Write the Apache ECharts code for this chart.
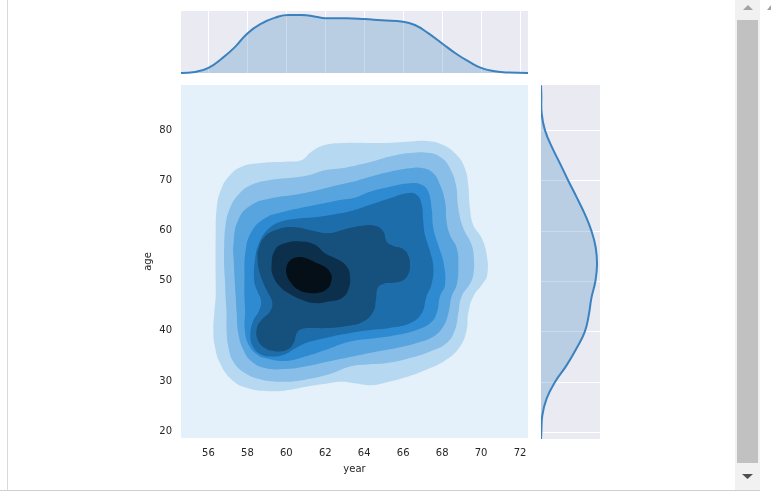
<!DOCTYPE html>
<html><head><meta charset="utf-8">
<script src="https://cdn.jsdelivr.net/npm/echarts@6/dist/echarts.min.js"></script>
<style>html,body{margin:0;padding:0;background:#fff;}#c{width:771px;height:493px;}</style>
</head><body><div id="c"></div>
<script>
// ---- axes ----
const xTicks = [56, 58, 60, 62, 64, 66, 68, 70, 72];
const yTicks = [20, 30, 40, 50, 60, 70, 80];
const yearRange = [54.59, 72.41];
const ageRange = [18.68, 88.95];

// ---- contour fill colours (background level first) ----
const levelColors = ['#e5f1fa', '#b6d9f1', '#88bee7', '#57a4de', '#2e8bd1', '#1d6dab', '#16507c', '#0c2f4b', '#050f18'];

// ---- contour levels, vertices as [year, age] ----
const level1 = [[56.37,50.2],[56.37,59.1],[56.42,64.4],[56.62,67.9],[57.05,70.8],[57.7,72.7],[58.73,73.4],[60.1,73.7],[60.79,74.0],[61.3,75.7],[61.98,77.0],[63.0,77.4],[64.98,77.4],[66.35,77.7],[67.21,77.8],[68.06,77.0],[68.75,75.0],[69.17,72.4],[69.34,69.1],[69.43,64.4],[69.6,61.1],[70.03,58.5],[70.29,55.1],[70.32,51.2],[70.1,49.5],[69.6,46.85],[69.34,43.5],[69.26,40.2],[68.92,36.9],[68.23,34.3],[67.21,32.3],[66.0,30.6],[64.98,29.6],[64.3,29.2],[63.5,29.6],[62.8,29.9],[62.0,29.5],[61.0,28.9],[60.2,28.3],[59.3,28.0],[58.04,28.6],[57.19,30.3],[56.59,33.6],[56.33,36.9],[56.25,40.2],[56.3,43.5],[56.37,46.85]];
const level2 = [[56.85,50.0],[56.81,52.5],[56.81,57.1],[56.88,61.1],[57.1,64.4],[57.53,67.1],[58.22,69.1],[59.25,70.1],[60.27,70.5],[61.13,71.0],[61.98,72.0],[62.84,72.4],[63.52,72.9],[64.13,73.4],[65.32,74.7],[66.35,75.4],[67.38,75.4],[67.98,74.4],[68.4,72.4],[68.71,69.1],[68.83,64.4],[69.09,60.45],[69.52,57.1],[69.64,53.8],[69.6,51.2],[69.45,49.5],[69.0,46.85],[68.83,43.5],[68.66,40.2],[68.23,37.6],[67.38,35.9],[66.35,34.6],[65.15,33.6],[64.13,33.3],[63.27,32.9],[62.15,31.3],[60.96,30.3],[59.93,29.9],[58.73,30.3],[57.87,31.6],[57.27,33.9],[57.02,36.9],[56.93,40.2],[56.93,43.5],[56.88,46.85]];
const level3 = [[57.35,50.0],[57.3,54.0],[57.28,57.1],[57.53,62.1],[58.22,65.1],[59.24,66.4],[60.44,67.1],[61.47,67.9],[62.5,68.9],[63.52,69.8],[64.3,70.7],[65.32,71.7],[66.35,72.4],[67.03,72.4],[67.55,71.4],[67.89,69.1],[68.15,65.75],[68.23,61.8],[68.4,59.1],[68.75,56.5],[68.83,52.5],[68.75,49.2],[68.49,46.9],[68.32,43.5],[68.06,40.9],[67.55,38.9],[66.69,37.6],[65.66,36.6],[64.64,35.9],[63.52,35.0],[62.15,33.9],[60.96,32.9],[59.93,32.4],[58.9,32.6],[58.22,33.9],[57.79,36.25],[57.53,39.56],[57.45,43.54],[57.4,46.86]];
const level4 = [[57.85,50.0],[57.9,55.8],[58.22,59.8],[58.9,62.4],[59.76,63.6],[60.79,64.5],[61.81,65.3],[62.84,66.1],[63.52,66.5],[64.3,67.7],[65.32,68.7],[66.35,69.4],[66.95,69.1],[67.29,67.7],[67.46,64.4],[67.55,60.4],[67.8,57.1],[68.06,53.8],[68.15,49.2],[67.89,46.9],[67.72,43.5],[67.38,41.5],[66.69,40.2],[65.66,39.2],[64.64,38.6],[63.27,37.9],[62.0,36.2],[60.96,34.9],[59.93,34.0],[58.9,34.6],[58.5,35.3],[58.1,37.0],[57.87,40.0],[57.88,44.0],[57.85,47.0]];
const level5 = [[58.35,50.0],[58.4,54.5],[58.6,57.5],[59.0,60.0],[59.6,61.6],[60.44,62.3],[61.47,62.6],[62.5,63.2],[63.27,63.8],[64.3,65.1],[65.32,66.4],[66.18,67.4],[66.69,67.1],[66.95,65.1],[67.03,61.8],[67.12,59.1],[67.38,55.8],[67.55,52.5],[67.45,49.2],[67.2,46.9],[66.95,43.5],[66.35,41.5],[65.32,40.6],[64.3,40.2],[63.27,39.6],[62.0,38.6],[61.0,37.6],[60.4,36.4],[59.9,35.3],[59.3,34.9],[58.7,35.3],[58.3,36.8],[58.15,39.0],[58.3,42.0],[58.6,44.0],[58.7,46.0],[58.5,48.0]];
const level6 = [[58.56,56.14],[58.9,58.79],[59.59,60.24],[60.44,60.64],[61.3,59.98],[62.16,59.45],[63.01,60.24],[63.87,60.91],[64.55,60.91],[64.98,59.78],[65.15,57.8],[65.5,56.9],[65.95,56.4],[66.25,55.1],[66.35,53.0],[66.25,51.2],[65.95,50.0],[65.5,49.6],[65.0,49.4],[64.7,48.6],[64.6,46.2],[64.47,43.87],[63.95,41.88],[63.18,41.02],[62.16,40.56],[61.3,40.56],[60.79,40.36],[60.53,39.56],[60.41,37.91],[60.1,36.38],[59.5,35.92],[58.9,36.58],[58.53,38.24],[58.49,40.56],[58.73,42.21],[59.16,43.87],[59.28,45.53],[59.07,47.52],[58.82,49.51],[58.59,52.16],[58.53,54.15]];
const level7 = [[59.24,52.82],[59.42,56.14],[59.93,57.46],[60.79,57.79],[61.47,57.13],[61.98,55.47],[62.67,54.15],[63.1,52.82],[63.27,50.83],[63.18,48.18],[62.84,46.52],[62.16,45.86],[61.47,45.53],[60.79,46.19],[60.1,47.52],[59.67,48.84],[59.33,50.83]];
const level8 = [[60.0,52.6],[60.17,53.9],[60.5,54.6],[60.96,54.5],[61.5,53.6],[62.02,52.6],[62.3,51.2],[62.3,49.8],[62.1,48.4],[61.64,47.6],[61.1,47.6],[60.58,48.3],[60.2,49.8],[60.02,51.2]];
const levels = [level1, level2, level3, level4, level5, level6, level7, level8];

// ---- marginal densities ----
const yearGrid = [54.59,55.32,56.0,56.69,57.37,58.0,58.74,59.43,60.1,60.8,61.5,62.0,63.1,64.0,64.9,66.0,66.6,67.3,68.0,68.7,69.4,70.0,70.7,71.4,72.41];
const yearDensity = [0,0.0015,0.0074,0.0212,0.0382,0.0579,0.0726,0.0809,0.0848,0.0848,0.0823,0.0800,0.0800,0.0789,0.0770,0.0750,0.0701,0.0579,0.0432,0.0285,0.0162,0.0074,0.0025,0.0006,0];
const ageGrid = [88.9,87,83.3,80,76.7,73.4,70,66.7,63.3,60,56.7,53.3,50,46.7,43.3,40,36.7,33.3,30,26.7,23.4,20,18.7];
const ageDensity = [0,0.0002,0.0004,0.0024,0.0065,0.0115,0.0165,0.0216,0.0266,0.0306,0.0332,0.0340,0.0330,0.0306,0.0290,0.0266,0.0216,0.0155,0.0085,0.0034,0.0008,0.0002,0];

const lineColor = '#3a82bf';
const fillColor = 'rgba(58,130,191,0.28)';
const font = 'DejaVu Sans';
const textColor = '#262626';

const chart = echarts.init(document.getElementById('c'), null, {renderer: 'canvas'});
chart.setOption({
  animation: false,
  backgroundColor: '#ffffff',
  grid: [
    {left: 181, top: 85, width: 347, height: 353, show: true, backgroundColor: levelColors[0], borderWidth: 0, outerBoundsMode: 'none'},
    {left: 181, top: 11, width: 347, height: 62, show: true, backgroundColor: '#eaeaf2', borderWidth: 0, outerBoundsMode: 'none'},
    {left: 541, top: 85, width: 59, height: 354, show: true, backgroundColor: '#eaeaf2', borderWidth: 0, outerBoundsMode: 'none'}
  ],
  xAxis: [
    {gridIndex: 0, type: 'value', min: yearRange[0], max: yearRange[1],
     name: 'year', nameLocation: 'middle', nameGap: 26,
     nameTextStyle: {fontFamily: font, fontSize: 10, color: textColor},
     axisLine: {show: false}, axisTick: {show: false, customValues: xTicks}, splitLine: {show: false},
     axisLabel: {customValues: xTicks, fontFamily: font, fontSize: 10, color: textColor, margin: 10}},
    {gridIndex: 1, type: 'value', min: yearRange[0], max: yearRange[1],
     axisLine: {show: false}, axisTick: {show: false, customValues: xTicks}, axisLabel: {show: false},
     splitLine: {show: true, lineStyle: {color: '#ffffff', width: 1}}},
    {gridIndex: 2, type: 'value', min: 0, max: 0.0358,
     axisLine: {show: false}, axisTick: {show: false}, axisLabel: {show: false}, splitLine: {show: false}}
  ],
  yAxis: [
    {gridIndex: 0, type: 'value', min: ageRange[0], max: ageRange[1],
     name: 'age', nameLocation: 'middle', nameGap: 28, nameRotate: 90,
     nameTextStyle: {fontFamily: font, fontSize: 10, color: textColor},
     axisLine: {show: false}, axisTick: {show: false, customValues: yTicks}, splitLine: {show: false},
     axisLabel: {customValues: yTicks, fontFamily: font, fontSize: 10, color: textColor, margin: 9}},
    {gridIndex: 1, type: 'value', min: 0, max: 0.0906,
     axisLine: {show: false}, axisTick: {show: false}, axisLabel: {show: false}, splitLine: {show: false}},
    {gridIndex: 2, type: 'value', min: ageRange[0], max: ageRange[1],
     axisLine: {show: false}, axisTick: {show: false, customValues: yTicks}, axisLabel: {show: false},
     splitLine: {show: true, lineStyle: {color: '#ffffff', width: 1}}}
  ],
  series: [
    {
      type: 'custom', xAxisIndex: 0, yAxisIndex: 0, silent: true, clip: true,
      data: levels.map(l => l[0]),
      renderItem: function (params, api) {
        const pts = levels[params.dataIndex].map(p => api.coord(p));
        return {type: 'polygon', shape: {points: pts, smooth: 0.45},
                style: {fill: levelColors[params.dataIndex + 1], stroke: null}};
      }
    },
    {
      type: 'line', xAxisIndex: 1, yAxisIndex: 1, silent: true, smooth: 0.5,
      showSymbol: false, clip: true,
      data: yearGrid.map((y, i) => [y, yearDensity[i]]),
      lineStyle: {color: lineColor, width: 2},
      areaStyle: {color: fillColor, opacity: 1}
    },
    {
      type: 'custom', xAxisIndex: 2, yAxisIndex: 2, silent: true, clip: true,
      data: [[0, ageGrid[0]]],
      renderItem: function (params, api) {
        const pts = ageGrid.map((a, i) => api.coord([ageDensity[i], a]));
        return {type: 'group', children: [
          {type: 'polygon', shape: {points: pts, smooth: 0.45}, style: {fill: fillColor, stroke: null}},
          {type: 'polyline', shape: {points: pts, smooth: 0.45}, style: {stroke: lineColor, lineWidth: 2, fill: null}}
        ]};
      }
    }
  ],
  graphic: [
    {type: 'line', shape: {x1: 7.5, y1: 0, x2: 7.5, y2: 490}, style: {stroke: '#d9d9d9', lineWidth: 1}, silent: true},
    {type: 'line', shape: {x1: 0, y1: 490.5, x2: 760, y2: 490.5}, style: {stroke: '#cfcfcf', lineWidth: 1}, silent: true},
    {type: 'rect', shape: {x: 735, y: 0, width: 25, height: 490}, style: {fill: '#f1f1f1'}, silent: true},
    {type: 'rect', shape: {x: 737, y: 20, width: 21, height: 443}, style: {fill: '#c1c1c1'}, silent: true},
    {type: 'polygon', shape: {points: [[743, 10], [753, 10], [748, 5]]}, style: {fill: '#a3a3a3'}, silent: true},
    {type: 'polygon', shape: {points: [[742, 474], [753, 474], [747.5, 479]]}, style: {fill: '#505050'}, silent: true},
    {type: 'polygon', shape: {points: [[767, 10], [771, 10], [771, 5]]}, style: {fill: '#a3a3a3'}, silent: true}
  ]
});
</script></body></html>
